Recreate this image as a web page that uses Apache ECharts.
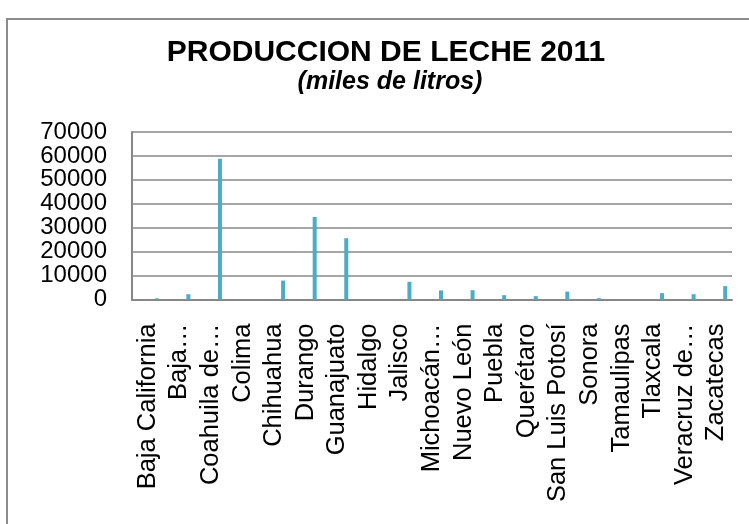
<!DOCTYPE html>
<html>
<head>
<meta charset="utf-8">
<script src="https://cdn.jsdelivr.net/npm/echarts@6/dist/echarts.min.js"></script>
<style>
  html, body { margin: 0; padding: 0; background: #fff; }
  #leche { width: 749px; height: 524px; }
</style>
</head>
<body>
<div id="leche"></div>
<script>
// estados (texto tal como aparece en el eje)
const estados = [
  'Baja California', 'Baja…', 'Coahuila de…', 'Colima', 'Chihuahua',
  'Durango', 'Guanajuato', 'Hidalgo', 'Jalisco', 'Michoacán…',
  'Nuevo León', 'Puebla', 'Querétaro', 'San Luis Potosí', 'Sonora',
  'Tamaulipas', 'Tlaxcala', 'Veracruz de…', 'Zacatecas'
];

// produccion 2011, miles de litros
const produccion = [
  500, 2200, 58800, 0, 7900,
  34500, 25600, 0, 7400, 3800,
  3900, 1800, 1400, 3300, 550,
  0, 2650, 2200, 5600
];

const ejeY = { min: 0, max: 70000, interval: 10000 };

const fuente = "Arial, 'Liberation Sans', sans-serif";

let myChart = echarts.init(document.getElementById('leche'));

myChart.setOption({
  animation: false,
  backgroundColor: '#fff',
  title: [{
    text: 'PRODUCCION DE LECHE 2011',
    left: 381,
    top: 33,
    textAlign: 'center',
    textStyle: { fontFamily: fuente, fontSize: 30, fontWeight: 'bold', color: '#000' }
  }, {
    text: '(miles de litros)',
    left: 385,
    top: 65,
    textAlign: 'center',
    textStyle: { fontFamily: fuente, fontSize: 25, fontWeight: 'bold', fontStyle: 'italic', color: '#000' }
  }],
  // marco exterior
  graphic: [{
    type: 'rect',
    shape: { x: 7, y: 19, width: 760, height: 520 },
    style: { fill: 'none', stroke: '#8c8c8c', lineWidth: 2 },
    silent: true
  }],
  grid: {
    left: 132,
    right: 17,
    top: 132,
    height: 167.5
  },
  xAxis: {
    type: 'category',
    data: estados,
    axisLine: { lineStyle: { color: '#878787', width: 2 } },
    axisTick: { show: false },
    axisLabel: {
      rotate: 90,
      margin: 24,
      interval: 0,
      fontFamily: fuente,
      fontSize: 25.5,
      color: '#000'
    }
  },
  yAxis: {
    type: 'value',
    min: ejeY.min,
    max: ejeY.max,
    interval: ejeY.interval,
    axisLine: { show: true, lineStyle: { color: '#878787', width: 2 } },
    axisTick: { show: false },
    axisLabel: {
      margin: 25,
      fontFamily: fuente,
      fontSize: 24,
      color: '#000',
      formatter: (v) => String(v)
    },
    splitLine: { lineStyle: { color: '#a6a6a6', width: 2 } }
  },
  series: [
    // serie vacia, solo ocupa el primer hueco del grupo (como en el original)
    {
      name: 'vacia',
      type: 'bar',
      barWidth: 4,
      barGap: '350%',
      data: estados.map(() => '-')
    },
    {
      name: 'Produccion',
      type: 'bar',
      barWidth: 4,
      barGap: '350%',
      itemStyle: { color: '#4bacc6' },
      data: produccion
    }
  ]
});
</script>
</body>
</html>
